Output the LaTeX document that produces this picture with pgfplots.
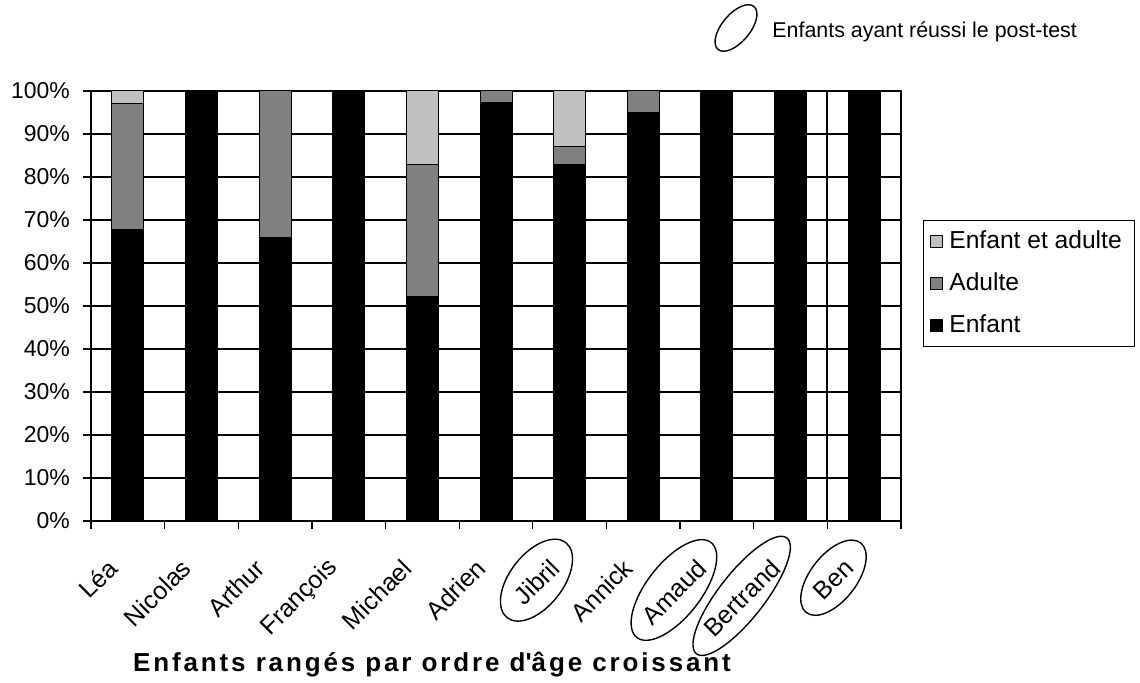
\documentclass[border=0pt]{standalone}
\usepackage{pgfplots}
\pgfplotsset{compat=1.18}
\usepackage{fontspec}
\setmainfont{Liberation Sans}
\usetikzlibrary{shapes.geometric}

\definecolor{adulte}{RGB}{128,128,128}
\definecolor{ensemble}{RGB}{192,192,192}

\pgfplotsset{
  sq/.style={legend image code/.code={\draw[##1,draw=black,line width=0.5pt] (0pt,-3pt) rectangle (6pt,3pt);}},
}
\tikzset{
  nomlabel/.style={font=\fontsize{12.5}{14}\selectfont, xshift=-5pt, yshift=-19pt, rotate=45, anchor=east},
  ovale/.style 2 args={draw, ellipse, line width=0.7pt, rotate=52, inner xsep=#1, inner ysep=#2,
        font=\fontsize{12.5}{14}\selectfont},
}

\begin{document}
\begin{tikzpicture}
\useasboundingbox (0,0) rectangle (570pt,341.5pt);
\begin{axis}[
  at={(45.5pt,81pt)}, anchor=south west,
  scale only axis, width=405pt, height=215pt,
  ybar stacked, bar width=16pt,
  xmin=-0.5, xmax=10.5, ymin=0, ymax=100,
  axis line style={line width=0.9pt},
  xtick={-0.5,0.5,...,10.5}, xticklabels={},
  extra x ticks={0,...,10},
  extra x tick labels={Léa,Nicolas,Arthur,François,Michael,Adrien,Jibril,Annick,Amaud,Bertrand,Ben},
  extra x tick style={major tick length=0pt, grid=none},
  ytick={0,10,...,100},
  yticklabel={\pgfmathprintnumber{\tick}\%},
  ymajorgrids, grid style={black, line width=0.6pt},
  tick align=outside, tick pos=left,
  major tick length=4pt,
  tick style={black, line width=0.6pt},
  /pgf/number format/assume math mode=true,
  tick label style={font=\fontsize{11.5}{13}\selectfont},
  yticklabel style={xshift=-3pt},
  xticklabel style={nomlabel},
  reverse legend,
  legend cell align=left,
  legend style={at={(1,0.553)}, anchor=west, xshift=11pt, draw=black,
    font=\fontsize{12.3}{14}\selectfont, row sep=6.5pt, inner sep=3.5pt,
    nodes={inner xsep=3pt}},
  xlabel={Enfants rangés par ordre d\textquotesingle âge croissant},
  xlabel style={at={(axis description cs:0.421,0)}, anchor=center, yshift=-72pt,
    font=\bfseries\fontsize{13}{15}\selectfont\addfontfeature{LetterSpace=11}},
]
\addplot[fill=black, draw=black, line width=0.5pt, sq] coordinates {
  (0,67.9) (1,100) (2,66.0) (3,100) (4,52.2) (5,97.3)
  (6,83.0) (7,95.0) (8,100) (9,100) (10,100)};
\addlegendentry{Enfant}
\addplot[fill=adulte, draw=black, line width=0.5pt, sq] coordinates {
  (0,29.1) (1,0) (2,34.0) (3,0) (4,30.8) (5,2.7)
  (6,4.2) (7,5.0) (8,0) (9,0) (10,0)};
\addlegendentry{Adulte}
\addplot[fill=ensemble, draw=black, line width=0.5pt, sq] coordinates {
  (0,3.0) (1,0) (2,0) (3,0) (4,17.0) (5,0)
  (6,12.8) (7,0) (8,0) (9,0) (10,0)};
\addlegendentry{Enfant et adulte}
\draw[black, line width=0.9pt] (axis cs:9.5,0) -- (axis cs:9.5,100);
% empty boxes where the circled names sit
\node[nomlabel, inner sep=0.333em] (oJ) at (axis cs:6,0) {\phantom{Jibril}};
\node[nomlabel, inner sep=0.333em] (oA) at (axis cs:8,0) {\phantom{Amaud}};
\node[nomlabel, inner sep=0.333em] (oB) at (axis cs:9,0) {\phantom{Bertrand}};
\node[nomlabel, inner sep=0.333em] (oN) at (axis cs:10,0) {\phantom{Ben}};
\end{axis}
\node[ovale={4pt}{4.8pt}] at ([yshift=1pt]oJ.center) {\phantom{Jibril}};
\node[ovale={1.5pt}{5pt}] at ([yshift=1pt]oA.center) {\phantom{Amaud}};
\node[ovale={2pt}{3.5pt}] at ([yshift=1pt]oB.center) {\phantom{Bertrand}};
\node[ovale={4.5pt}{3.8pt}] at ([yshift=1pt]oN.center) {\phantom{Ben}};
% note above the chart
\draw[line width=0.7pt, rotate around={50:(368pt,327.5pt)}] (368pt,327.5pt) ellipse [x radius=14pt, y radius=7pt];
\node[anchor=west, inner sep=0pt, font=\fontsize{10.7}{12}\selectfont] at (386pt,325.5pt) {Enfants ayant réussi le post-test};
\end{tikzpicture}
\end{document}
